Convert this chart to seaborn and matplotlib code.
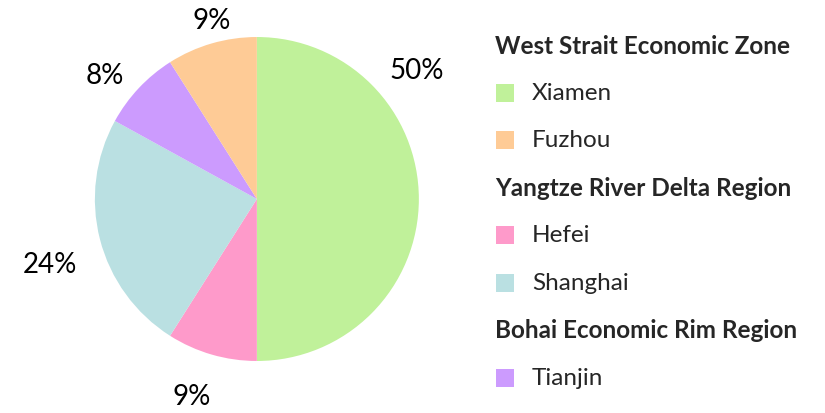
"""Share of city pie chart with grouped legend."""

import matplotlib.pyplot as plt
import numpy as np
import seaborn as sns
from matplotlib.patches import Rectangle

# Pie order (clockwise from 12 o'clock)
CITIES = ["Xiamen", "Hefei", "Shanghai", "Tianjin", "Fuzhou"]
SHARES = [50, 9, 24, 8, 9]
COLORS = ["#c0f19a", "#fe9aca", "#bae0e2", "#cc9bfe", "#fecb96"]

# Legend layout: region headers followed by their cities
REGIONS = [
    "West Strait Economic Zone",
    "Yangtze River Delta Region",
    "Bohai Economic Rim Region",
]
REGION_CITIES = [["Xiamen", "Fuzhou"], ["Hefei", "Shanghai"], ["Tianjin"]]

sns.set_theme(style="white")
plt.rcParams["font.family"] = ["Lato", "DejaVu Sans"]

fig = plt.figure(figsize=(8.25, 4.14), dpi=100)
ax = fig.add_axes([0.115, 0.1256, 0.3927, 0.7826])

wedges, _ = ax.pie(
    SHARES,
    colors=COLORS,
    startangle=90,
    counterclock=False,
    radius=1.0,
    wedgeprops={"linewidth": 0},
)
ax.set_xlim(-1, 1)
ax.set_ylim(-1, 1)
ax.set_aspect("equal")
ax.axis("off")

# percentage labels outside the wedges
label_dist = [1.27, 1.28, 1.34, 1.21, 1.14]
label_shift = [39, -2, 3, 4, -2]  # degrees nudged from wedge middle
for wedge, share, dist, shift in zip(wedges, SHARES, label_dist, label_shift):
    mid = (wedge.theta1 + wedge.theta2) / 2 + shift
    rad = np.deg2rad(mid)
    ax.text(
        dist * np.cos(rad),
        dist * np.sin(rad),
        f"{share}%",
        ha="center",
        va="center",
        fontsize=20,
        color="black",
        clip_on=False,
    )

color_of = dict(zip(CITIES, COLORS))
fig_w, fig_h = 825, 414
row_y = 46
for region, members in zip(REGIONS, REGION_CITIES):
    fig.text(
        495 / fig_w,
        1 - row_y / fig_h,
        region,
        fontsize=17.5,
        fontweight="bold",
        va="center",
        ha="left",
    )
    row_y += 47.5
    for city in members:
        fig.patches.append(
            Rectangle(
                (496 / fig_w, 1 - (row_y + 9) / fig_h),
                18 / fig_w,
                18 / fig_h,
                transform=fig.transFigure,
                facecolor=color_of[city],
                edgecolor="none",
            )
        )
        fig.text(532 / fig_w, 1 - row_y / fig_h, city, fontsize=17.5, va="center", ha="left")
        row_y += 47.5

fig.savefig("out.png", dpi=100)
